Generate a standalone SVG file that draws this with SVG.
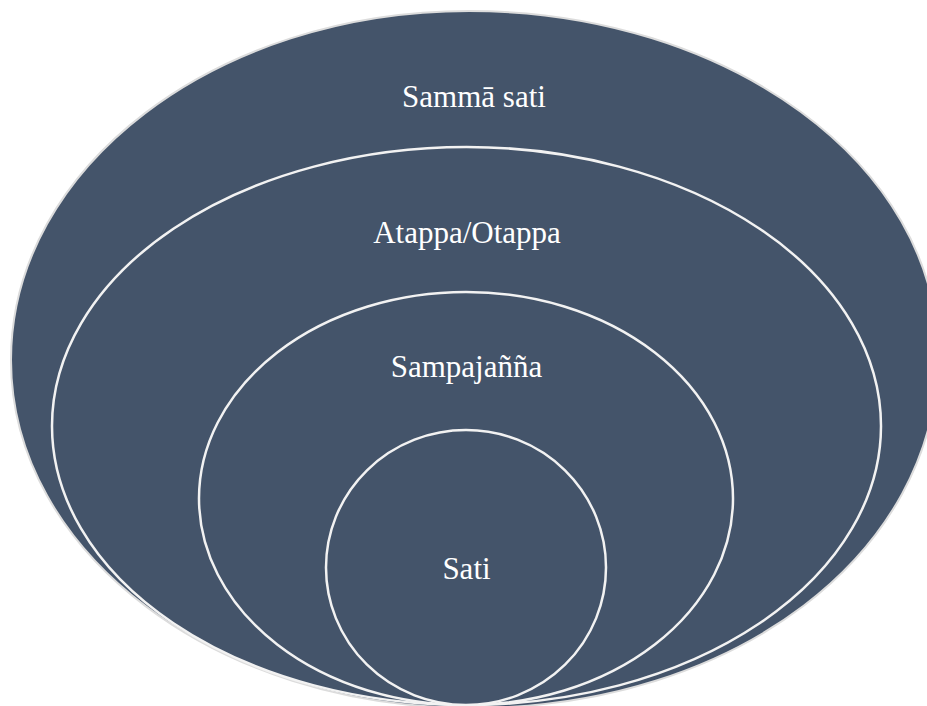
<svg xmlns="http://www.w3.org/2000/svg" width="927" height="706" viewBox="0 0 927 706">
  <style>
    .ring { fill: #44546A; stroke: #F2F2F2; stroke-width: 2.5; }
    .outer { fill: #44546A; stroke: #DCDCDC; stroke-width: 2; }
    .lbl { font-family: "Liberation Serif", "Times New Roman", serif; font-size: 31px; fill: #FFFFFF; text-anchor: middle; }
  </style>
  <rect width="927" height="706" fill="#FFFFFF"/>
  <g id="node-samma-sati">
    <path class="outer" d="M 11,360 C 11,167 216,11 469,11 C 728,11 938,165 938,355 C 938,553 735,708 472,708 C 217,708 11,553 11,360 Z"/>
    <text class="lbl" x="474" y="107">Sammā sati</text>
  </g>
  <g id="node-atappa">
    <ellipse class="ring" cx="466.5" cy="426" rx="414.5" ry="279"/>
    <text class="lbl" x="467" y="243">Atappa/Otappa</text>
  </g>
  <g id="node-sampajanna">
    <ellipse class="ring" cx="466" cy="498.5" rx="267" ry="206.5"/>
    <text class="lbl" x="466.5" y="377">Sampajañña</text>
  </g>
  <g id="node-sati">
    <ellipse class="ring" cx="466" cy="567.5" rx="140" ry="137.5"/>
    <text class="lbl" x="466.5" y="579">Sati</text>
  </g>
  <g id="connectors"/>
</svg>
